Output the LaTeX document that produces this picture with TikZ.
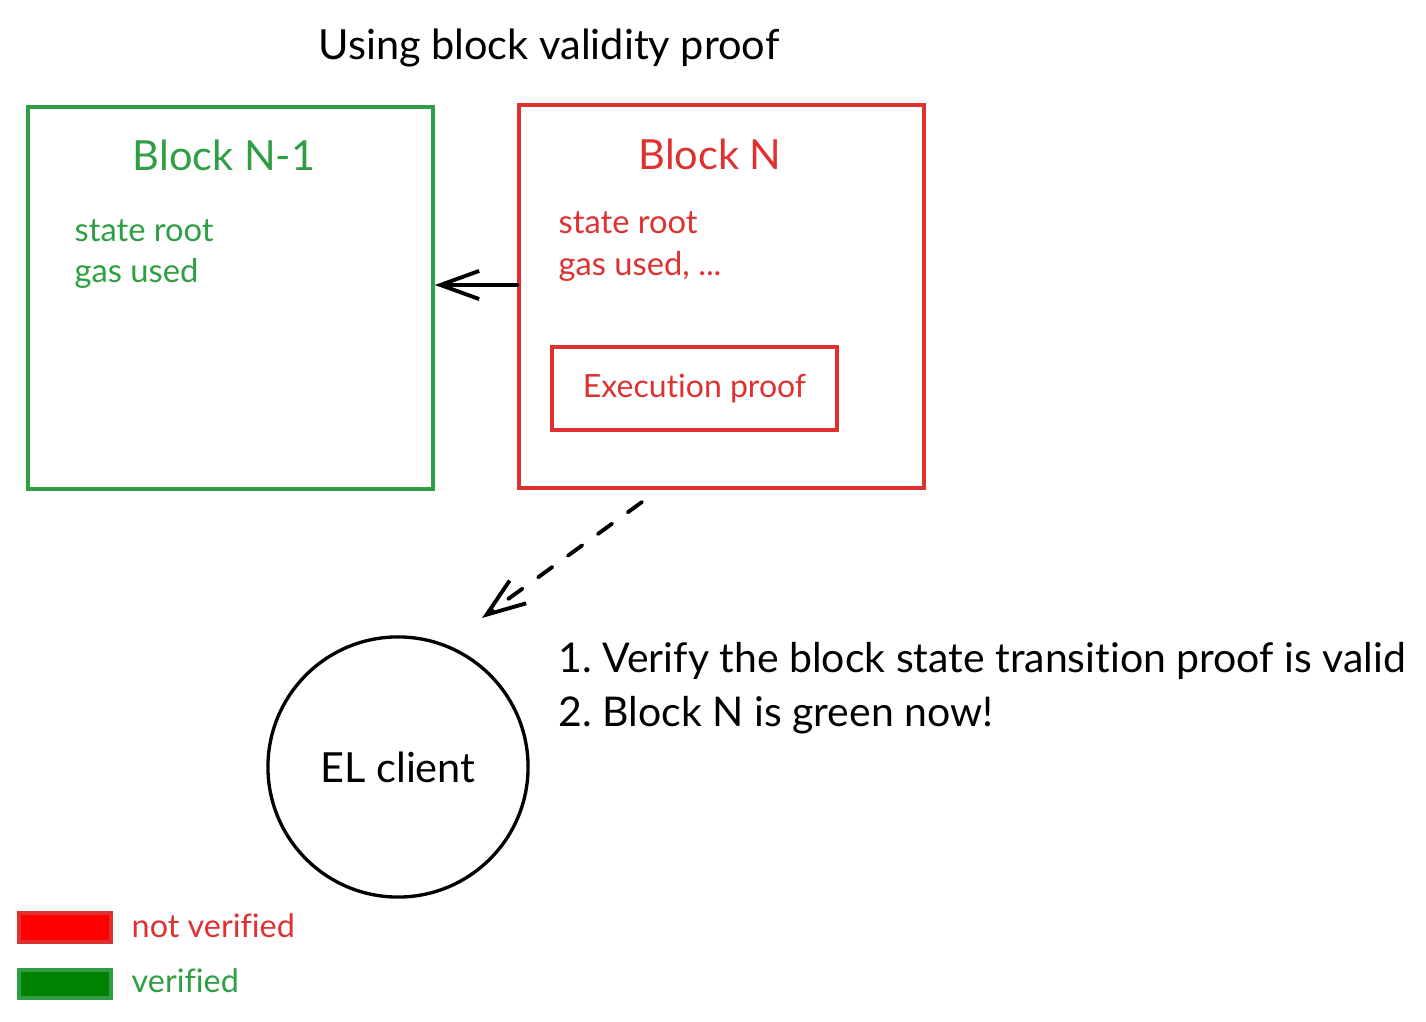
\documentclass[tikz,border=0pt]{standalone}
\usepackage{fontspec}
\setmainfont{Lato}[Ligatures=NoCommon]
\usetikzlibrary{arrows.meta}
\frenchspacing

\definecolor{okgreen}{HTML}{2F9E44}
\definecolor{badred}{HTML}{E03131}

\tikzset{
  frame/.style={draw, line width=0.95pt, inner sep=0pt},
  big/.style={font=\fontsize{11.8}{14}\selectfont},
  small/.style={font=\fontsize{9.3}{11}\selectfont, anchor=west, inner sep=0pt},
  barb/.style={-{Straight Barb[length=11pt, width=8pt, line width=1.1pt]}, line width=1.1pt, line cap=round}
}

\begin{document}
\begin{tikzpicture}[x=0.01cm, y=-0.01cm]
    \useasboundingbox (0,0) rectangle (1426,1022);

    \node[big] (title) at (549,48) {Using block validity proof};

    % blocks
    \node[frame, okgreen, minimum width=4.05cm, minimum height=3.82cm] (prevblock) at (230.5,298) {};
    \node[frame, badred, minimum width=4.05cm, minimum height=3.83cm] (curblock) at (721.5,296.5) {};

    \node[big, okgreen] (prevtitle) at (224,155) {Block N-1};
    \node[small, okgreen] (prevroot) at (74,231) {state root};
    \node[small, okgreen] (prevgas) at (74,273) {gas used};

    \node[big, badred] (curtitle) at (710,154) {Block N};
    \node[small, badred] (curroot) at (558,223) {state root};
    \node[small, badred] (curgas) at (558,266) {gas used, ...};

    \node[frame, badred, minimum width=2.85cm, minimum height=0.83cm,
          font=\fontsize{9.1}{11}\selectfont] (proof) at (694.5,388.5) {Execution proof};

    % client
    \node[draw, circle, line width=0.95pt, minimum size=2.6cm, inner sep=0pt,
          font=\fontsize{11.8}{14}\selectfont] (elclient) at (398,767) {EL client};

    \coordinate (fromN) at (curblock.west |- 0,285);
    \coordinate (toprev) at (prevblock.east |- 0,285);
    \draw[barb] (fromN) -- (toprev);

    \coordinate (dashstart) at (642,502);
    \coordinate (dashtip) at (482,618);
    \draw[barb, dash pattern=on 5pt off 5.5pt] (dashstart) -- (dashtip);

    \node[anchor=west, inner sep=0pt, font=\fontsize{11.65}{14}\selectfont] (step1) at (558,661) {1. Verify the block state transition proof is valid};
    \node[anchor=west, inner sep=0pt, font=\fontsize{11.65}{14}\selectfont] (step2) at (558,715) {2. Block N is green now!};

    % legend
    \node[draw=badred, fill=red, line width=1pt, minimum width=0.92cm, minimum height=0.29cm, inner sep=0pt] (keyred) at (65,927.5) {};
    \node[small, badred, font=\fontsize{9.2}{11}\selectfont] (keyredtext) at (131,926) {not verified};
    \node[draw=okgreen, fill=green!50!black, line width=1pt, minimum width=0.92cm, minimum height=0.28cm, inner sep=0pt] (keygreen) at (65,984) {};
    \node[small, okgreen, font=\fontsize{9.2}{11}\selectfont] (keygreentext) at (131,981) {verified};
\end{tikzpicture}
\end{document}
